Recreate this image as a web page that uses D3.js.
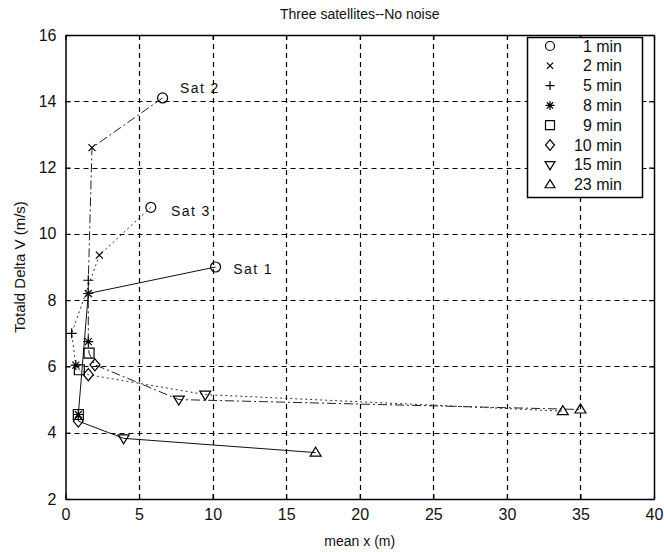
<!DOCTYPE html>
<html>
  <head>
    <meta charset="utf-8">
    <title>Three satellites--No noise</title>
    <script src="https://d3js.org/d3.v7.min.js"></script>
    <style>
      body { margin: 0; background: #fff; font-family: "Liberation Sans", Arial, sans-serif; }
      svg text { fill: #111; }
    </style>
  </head>
  <body>
    <div id="chart"></div>
    <script>
      // Data
      var minutes = ["1 min", "2 min", "5 min", "8 min", "9 min", "10 min", "15 min", "23 min"];
      var markers = ["circle", "x", "plus", "star", "square", "diamond", "triDown", "triUp"];

      var sat1X = [10.2, 1.55, 1.55, 0.87, 0.87, 0.87, 3.95, 17.0];
      var sat1Y = [9.0, 8.2, 8.2, 4.55, 4.55, 4.35, 3.83, 3.4];
      var sat2X = [6.6, 1.8, 1.55, 1.55, 1.6, 2.0, 7.7, 35.0];
      var sat2Y = [14.1, 12.6, 8.6, 6.75, 6.4, 6.05, 5.0, 4.7];
      var sat3X = [5.8, 2.3, 0.42, 0.7, 0.94, 1.55, 9.5, 33.8];
      var sat3Y = [10.8, 9.36, 7.0, 6.04, 5.9, 5.75, 5.15, 4.65];

      var satNames = ["Sat 1", "Sat 2", "Sat 3"];
      var labelX = [11.4, 7.78, 7.17];
      var labelY = [8.95, 14.4, 10.7];

      var xTicks = [0, 5, 10, 15, 20, 25, 30, 35, 40];
      var yTicks = [2, 4, 6, 8, 10, 12, 14, 16];

      var W = 664, H = 552;
      var pLeft = 65.5, pRight = 654, pTop = 35, pBottom = 499;

      var x = d3.scaleLinear().domain([0, 40]).range([pLeft, pRight]);
      var y = d3.scaleLinear().domain([2, 16]).range([pBottom, pTop]);

      var svg = d3.select("#chart").append("svg")
        .attr("width", W)
        .attr("height", H);

      // grid
      var grid = svg.append("g").attr("stroke", "#000").attr("stroke-width", 1.2)
        .attr("stroke-dasharray", "5,4");
      grid.selectAll(".gx").data(xTicks.slice(1, -1)).enter().append("line")
        .attr("x1", function(d) { return Math.round(x(d)) + 0.5; })
        .attr("x2", function(d) { return Math.round(x(d)) + 0.5; })
        .attr("y1", pTop).attr("y2", pBottom);
      grid.selectAll(".gy").data(yTicks.slice(1, -1)).enter().append("line")
        .attr("y1", function(d) { return Math.round(y(d)) + 0.5; })
        .attr("y2", function(d) { return Math.round(y(d)) + 0.5; })
        .attr("x1", pLeft).attr("x2", pRight);

      // axes (ticks inside, box)
      var axB = d3.axisBottom(x).tickValues(xTicks).tickSizeInner(-5).tickSizeOuter(0).tickPadding(10);
      var axL = d3.axisLeft(y).tickValues(yTicks).tickSizeInner(-5).tickSizeOuter(0).tickPadding(9);
      var axT = d3.axisTop(x).tickValues(xTicks).tickSizeInner(-5).tickSizeOuter(0).tickFormat("");
      var axR = d3.axisRight(y).tickValues(yTicks).tickSizeInner(-5).tickSizeOuter(0).tickFormat("");

      function style(g) {
        g.selectAll("path").attr("stroke", "#000").attr("stroke-width", 1.5);
        g.selectAll("line").attr("stroke", "#000").attr("stroke-width", 1.2);
        g.selectAll("text").attr("font-size", 16).attr("fill", "#111")
          .attr("font-family", "'Liberation Sans', Arial, sans-serif");
      }
      svg.append("g").attr("transform", "translate(0," + pBottom + ")").call(axB).call(style);
      svg.append("g").attr("transform", "translate(" + pLeft + ",0)").call(axL).call(style);
      svg.append("g").attr("transform", "translate(0," + pTop + ")").call(axT).call(style);
      svg.append("g").attr("transform", "translate(" + pRight + ",0)").call(axR).call(style);

      // titles
      svg.append("text").attr("x", (pLeft + pRight) / 2).attr("y", 19)
        .attr("text-anchor", "middle").attr("font-size", 14).text("Three satellites--No noise");
      svg.append("text").attr("x", (pLeft + pRight) / 2).attr("y", 546)
        .attr("text-anchor", "middle").attr("font-size", 14).text("mean x (m)");
      svg.append("text").attr("transform", "translate(25," + ((pTop + pBottom) / 2) + ") rotate(-90)")
        .attr("text-anchor", "middle").attr("font-size", 15).text("Totald Delta V (m/s)");

      // marker shapes
      function markerPath(type, s) {
        var h = s / 2;
        switch (type) {
          case "circle": return d3.symbol(d3.symbolCircle, Math.PI * h * h)();
          case "x": return "M" + (-h * 0.7) + "," + (-h * 0.7) + "L" + (h * 0.7) + "," + (h * 0.7) +
            "M" + (-h * 0.7) + "," + (h * 0.7) + "L" + (h * 0.7) + "," + (-h * 0.7);
          case "plus": return "M" + (-h) + ",0L" + h + ",0M0," + (-h) + "L0," + h;
          case "star": return "M" + (-h) + ",0L" + h + ",0M0," + (-h) + "L0," + h +
            "M" + (-h * 0.7) + "," + (-h * 0.7) + "L" + (h * 0.7) + "," + (h * 0.7) +
            "M" + (-h * 0.7) + "," + (h * 0.7) + "L" + (h * 0.7) + "," + (-h * 0.7);
          case "square": return "M" + (-h) + "," + (-h) + "H" + h + "V" + h + "H" + (-h) + "Z";
          case "diamond": return "M0," + (-h * 1.2) + "L" + h + ",0L0," + (h * 1.2) + "L" + (-h) + ",0Z";
          case "triDown": return "M" + (-h * 1.1) + "," + (-h * 0.7) + "L" + (h * 1.1) + "," + (-h * 0.7) + "L0," + (h * 1.1) + "Z";
          case "triUp": return "M" + (-h * 1.1) + "," + (h * 0.7) + "L" + (h * 1.1) + "," + (h * 0.7) + "L0," + (-h * 1.1) + "Z";
        }
      }

      var sats = [
        { xs: sat1X, ys: sat1Y, dash: null, color: "#111" },
        { xs: sat2X, ys: sat2Y, dash: "9,3,2,3", color: "#222" },
        { xs: sat3X, ys: sat3Y, dash: "2,3", color: "#333" }
      ];

      var line = d3.line().x(function(d) { return x(d[0]); }).y(function(d) { return y(d[1]); });

      sats.forEach(function(s, si) {
        var pts = s.xs.map(function(v, i) { return [v, s.ys[i]]; });
        svg.append("path").datum(pts).attr("d", line)
          .attr("fill", "none").attr("stroke", s.color).attr("stroke-width", 1)
          .attr("stroke-dasharray", s.dash);
        svg.selectAll(".m" + si).data(pts).enter().append("path")
          .attr("transform", function(d) { return "translate(" + x(d[0]) + "," + y(d[1]) + ")"; })
          .attr("d", function(d, i) { return markerPath(markers[i], 10); })
          .attr("fill", "none").attr("stroke", "#000").attr("stroke-width", 1.2);
      });

      // satellite labels
      svg.selectAll(".satlab").data(satNames).enter().append("text")
        .attr("x", function(d, i) { return x(labelX[i]); })
        .attr("y", function(d, i) { return y(labelY[i]) + 5; })
        .attr("font-size", 14).attr("letter-spacing", 1.4).text(function(d) { return d; });

      // legend
      var lg = svg.append("g");
      lg.append("rect").attr("x", 527.5).attr("y", 37.5).attr("width", 115).attr("height", 160)
        .attr("fill", "#fff").attr("stroke", "#000").attr("stroke-width", 1.5);
      minutes.forEach(function(m, i) {
        var cy = 46 + i * 19.8;
        lg.append("path").attr("transform", "translate(550," + cy + ")")
          .attr("d", markerPath(markers[i], 9))
          .attr("fill", "none").attr("stroke", "#000").attr("stroke-width", 1.2);
        lg.append("text").attr("x", 622).attr("y", cy + 5.5).attr("text-anchor", "end")
          .attr("font-size", 16).text(m);
      });
    </script>
  </body>
</html>
